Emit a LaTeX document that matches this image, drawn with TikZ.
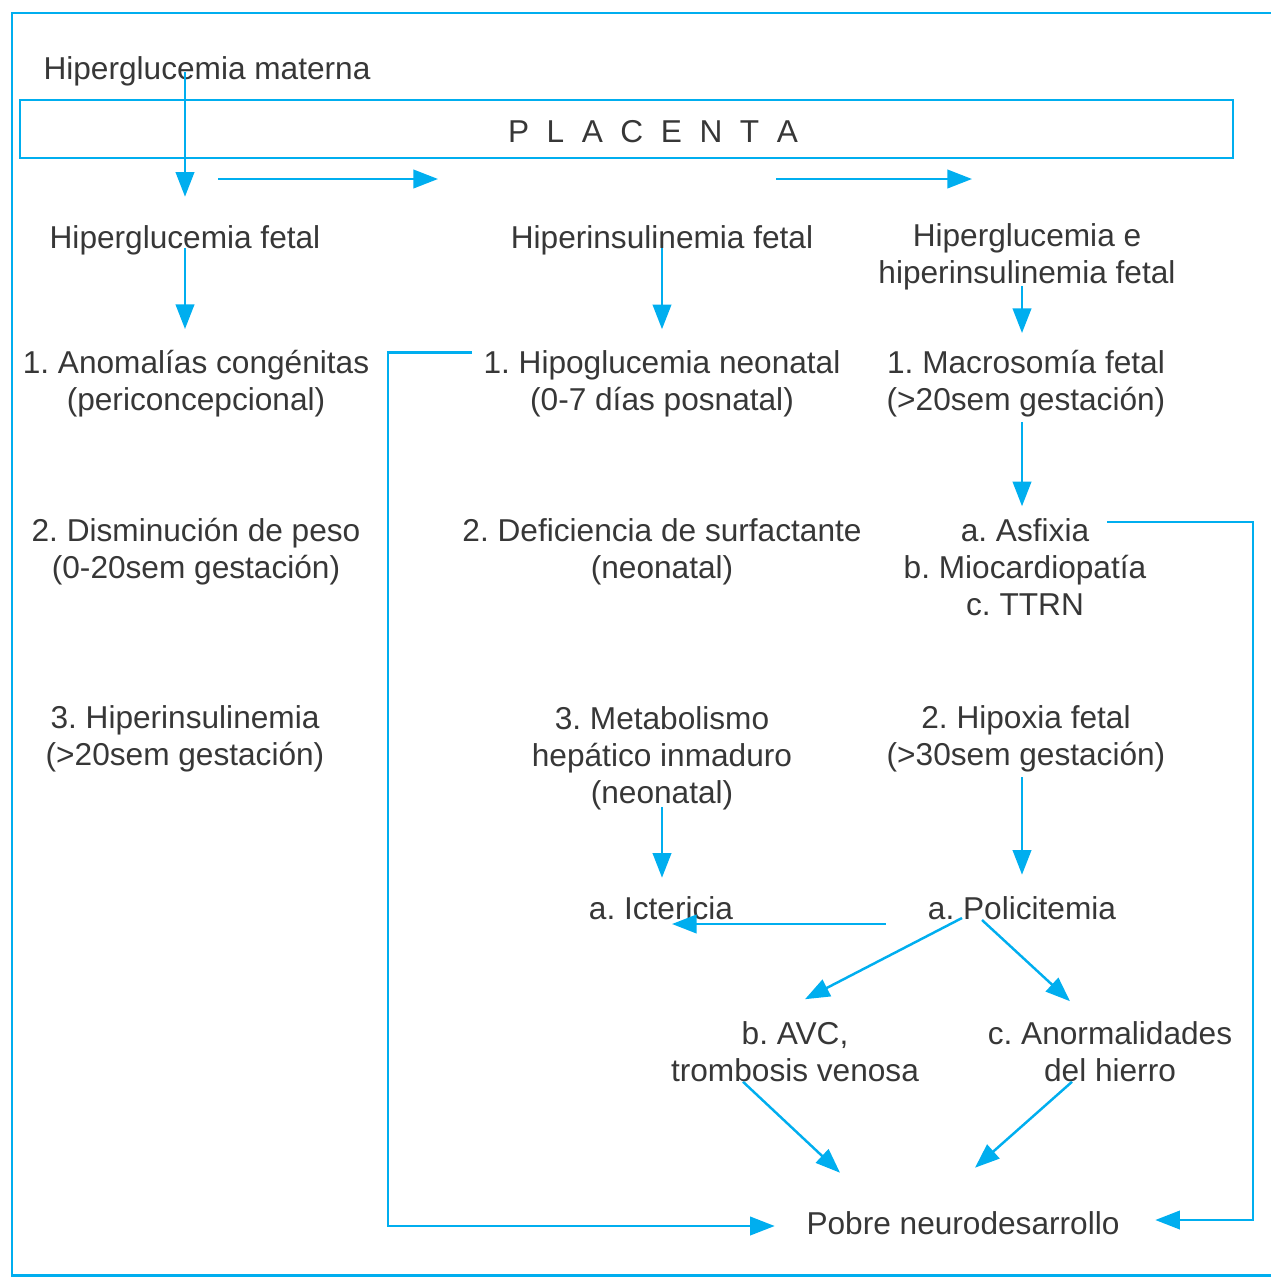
\documentclass[tikz,border=0pt]{standalone}
\usepackage{fontspec}
\setmainfont{Liberation Sans}
\usetikzlibrary{arrows.meta}
\definecolor{cian}{RGB}{0,174,239}
\definecolor{gris}{RGB}{55,55,55}
\frenchspacing

\begin{document}
\begin{tikzpicture}[x=0.02cm,y=-0.02cm,
  txt/.style={font=\fontsize{18}{21}\selectfont,text=gris,align=center,inner sep=0pt,
    execute at begin node=\strut,execute at end node=\strut},
  linea/.style={cian,line width=1.4pt},
  flecha/.style={linea,-{Triangle[length=14pt,width=10.5pt]}}]
\useasboundingbox (0,0) rectangle (1271,1278);
\draw [cian,line width=1.7pt] (1271,13) -- (12,13) -- (12,1275) -- (1271,1275);
\draw [linea] (20,100) rectangle (1233,158);
\node [txt] (placenta) at (653,135) {{\spaceskip=10pt P L A C E N T A}};
\node [txt] (mat) at (207,72) {Hiperglucemia materna};
\node [txt] (hgf) at (185,241) {Hiperglucemia fetal};
\node [txt] (hif) at (662,241) {Hiperinsulinemia fetal};
\node [txt] (hhf) at (1027,259) {Hiperglucemia e\\hiperinsulinemia fetal};
\node [txt] (anom) at (196,386) {1. Anomalías congénitas\\(periconcepcional)};
\node [txt] (hipo) at (662,386) {1. Hipoglucemia neonatal\\(0-7 días posnatal)};
\node [txt] (macro) at (1026,386) {1. Macrosomía fetal\\(>20sem gestación)};
\node [txt] (dism) at (196,554) {2. Disminución de peso\\(0-20sem gestación)};
\node [txt] (defi) at (662,554) {2. Deficiencia de surfactante\\(neonatal)};
\node [txt] (asfi) at (1025,572.5) {a. Asfixia\\b. Miocardiopatía\\c. TTRN};
\node [txt] (hins) at (185,741.5) {3. Hiperinsulinemia\\(>20sem gestación)};
\node [txt] (meta) at (662,760.5) {3. Metabolismo\\hepático inmaduro\\(neonatal)};
\node [txt] (hipox) at (1026,741.5) {2. Hipoxia fetal\\(>30sem gestación)};
\node [txt] (icte) at (661,912) {a. Ictericia};
\node [txt] (poli) at (1022,912) {a. Policitemia};
\node [txt] (avc) at (795,1057) {b. AVC,\\trombosis venosa};
\node [txt] (anor) at (1110,1057) {c. Anormalidades\\del hierro};
\node [txt] (pobre) at (963,1227) {Pobre neurodesarrollo};
\coordinate (h1) at (218,179);
\coordinate (h2) at (438,179);
\coordinate (h3) at (776,179);
\coordinate (h4) at (972,179);
\draw [flecha,shorten >=0.51cm] (hgf.north |- mat.center) -- (hgf.north);
\draw [flecha] (h1) -- (h2);
\draw [flecha] (h3) -- (h4);
\draw [flecha,shorten <=-0.23cm,shorten >=0.42cm] (hgf.south) -- (hgf.south |- anom.north);
\draw [flecha,shorten <=-0.23cm,shorten >=0.42cm] (hif.south) -- (hif.south |- hipo.north);
\draw [flecha,shorten <=-0.18cm,shorten >=0.34cm] (hhf.south -| poli) -- (macro.north -| poli);
\draw [flecha,shorten >=0.24cm] (macro.south -| poli) -- (asfi.north -| poli);
\draw [flecha,shorten <=-0.16cm,shorten >=0.31cm] (meta.south) -- (meta.south |- icte.north);
\draw [flecha,shorten >=0.37cm] (hipox.south -| poli) -- (poli.north);
\draw [flecha] ([shift={(-42,12)}]poli.west) -- ([shift={(11,12)}]icte.center);
\draw [flecha] ([shift={(-60,6)}]poli.center) -- ([shift={(10,-22)}]avc.north);
\draw [flecha] ([shift={(-40,8)}]poli.center) -- ([shift={(-40,-20)}]anor.north);
\draw [flecha] ([shift={(-52,-11)}]avc.south) -- ([shift={(-123,-35.5)}]pobre.north);
\draw [flecha] ([shift={(-38,-11)}]anor.south) -- ([shift={(12,-40.5)}]pobre.north);
\draw [flecha,shorten >=0.63cm] ([shift={(-11,2.5)}]hipo.north west) -- ++(-84,0) |- ([shift={(0,-1)}]pobre.west);
\draw [flecha,shorten >=0.71cm] ([shift={(82,3.5)}]asfi.north) -- ++(146,0) |- ([shift={(0,-7)}]pobre.east);
\end{tikzpicture}
\end{document}
